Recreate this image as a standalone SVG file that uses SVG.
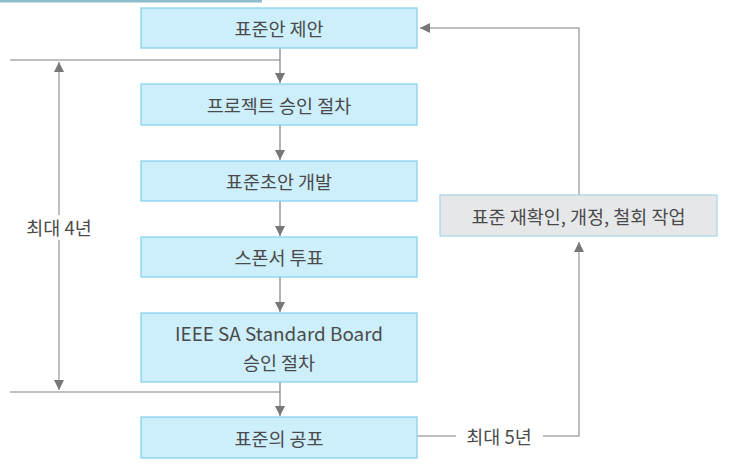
<svg xmlns="http://www.w3.org/2000/svg" width="729" height="470" viewBox="0 0 729 470">
<style>
.box{fill:#cdeefb;stroke:#86d3ee;stroke-width:1.3}
.gbox{fill:#e6e7e9;stroke:#a9d7ea;stroke-width:1.3}
.t{font-family:"Noto Sans CJK KR","Noto Sans",sans-serif;font-size:18.5px;fill:#4a4a4a;text-anchor:middle;dominant-baseline:central}
.ln{fill:none;stroke:#aaaaaa;stroke-width:1.5}
.ar{fill:none;stroke:#888888;stroke-width:1.3}
</style>
<defs>
<marker id="ah" viewBox="0 0 10 10" refX="10" refY="5" markerWidth="10" markerHeight="10" markerUnits="userSpaceOnUse" orient="auto">
<path d="M0,0 L10,5 L0,10 Z" fill="#777"/>
</marker>
<marker id="ahs" viewBox="0 0 10 10" refX="10" refY="5" markerWidth="10" markerHeight="10" markerUnits="userSpaceOnUse" orient="auto-start-reverse">
<path d="M0,0 L10,5 L0,10 Z" fill="#777"/>
</marker>
</defs>
<rect x="0" y="0" width="262" height="2.5" fill="#8fbccb"/>
<g id="connectors">
<line class="ln" x1="10" y1="60" x2="280" y2="60"/>
<line class="ln" x1="10" y1="392" x2="280" y2="392"/>
<line class="ar" x1="280" y1="48" x2="280" y2="83" marker-end="url(#ah)"/>
<line class="ar" x1="280" y1="125" x2="280" y2="160" marker-end="url(#ah)"/>
<line class="ar" x1="280" y1="201" x2="280" y2="236" marker-end="url(#ah)"/>
<line class="ar" x1="280" y1="277" x2="280" y2="312" marker-end="url(#ah)"/>
<line class="ar" x1="280" y1="382" x2="280" y2="416" marker-end="url(#ah)"/>
<line class="ln" x1="59" y1="62" x2="59" y2="215" marker-start="url(#ahs)"/>
<line class="ln" x1="59" y1="240" x2="59" y2="390" marker-end="url(#ah)"/>
<line class="ln" x1="417" y1="436" x2="456" y2="436"/>
<polyline class="ln" points="543,436 579,436 579,242" marker-end="url(#ah)"/>
<polyline class="ln" points="579,195 579,28 420,28" marker-end="url(#ah)"/>
</g>
<g id="n1"><rect class="box" x="141" y="8" width="276" height="40"/><text class="t" x="279" y="28">표준안 제안</text></g>
<g id="n2"><rect class="box" x="141" y="84" width="276" height="41"/><text class="t" x="279" y="104.5">프로젝트 승인 절차</text></g>
<g id="n3"><rect class="box" x="141" y="161" width="276" height="40"/><text class="t" x="279" y="181">표준초안 개발</text></g>
<g id="n4"><rect class="box" x="141" y="237" width="276" height="40"/><text class="t" x="279" y="257">스폰서 투표</text></g>
<g id="n5"><rect class="box" x="141" y="313" width="276" height="69"/><text class="t" x="279" y="333" textLength="208" lengthAdjust="spacingAndGlyphs">IEEE SA Standard Board</text><text class="t" x="279" y="362">승인 절차</text></g>
<g id="n6"><rect class="box" x="141" y="417" width="276" height="41"/><text class="t" x="279" y="437.5">표준의 공포</text></g>
<g id="n7"><rect class="gbox" x="440" y="195" width="277" height="41"/><text class="t" x="578.5" y="215.5">표준 재확인, 개정, 철회 작업</text></g>
<g id="labels">
<text class="t" x="59" y="227">최대 4년</text>
<text class="t" x="499" y="436">최대 5년</text>
</g>
</svg>
